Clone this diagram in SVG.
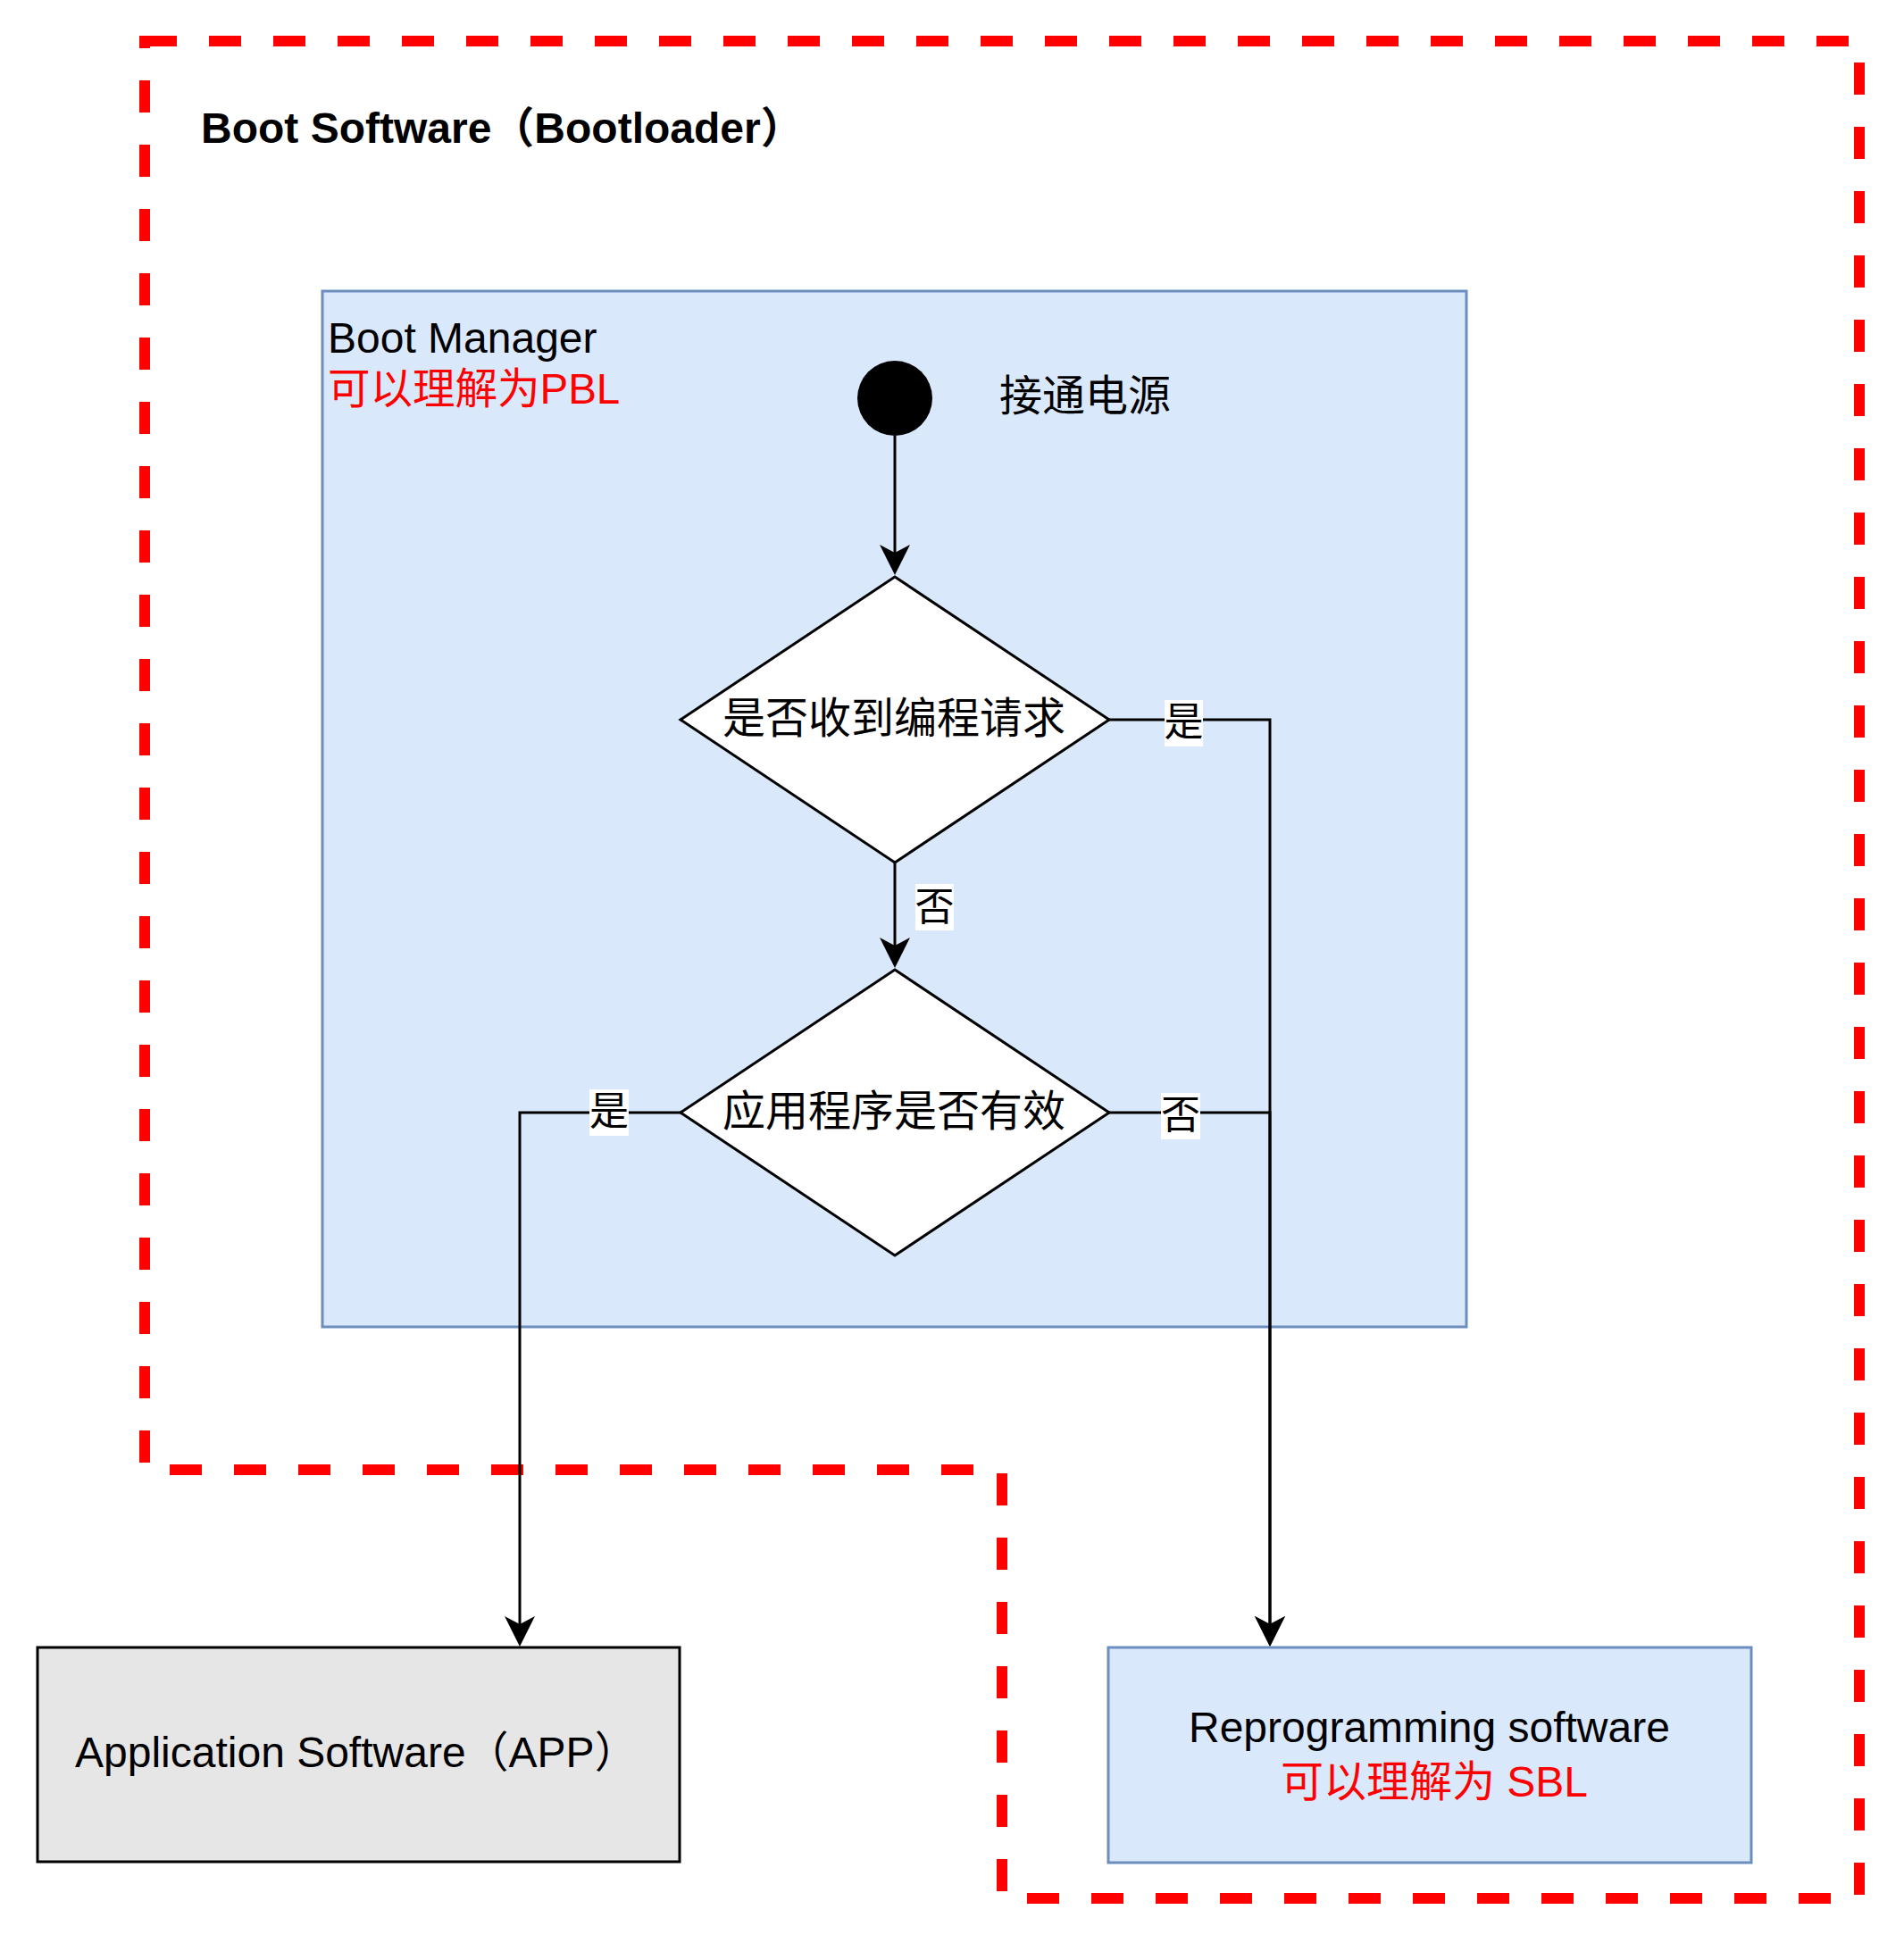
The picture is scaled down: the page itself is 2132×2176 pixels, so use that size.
<svg xmlns="http://www.w3.org/2000/svg" width="2132" height="2176" viewBox="0 0 2132 2176">
<style>
.lat{font-family:"Liberation Sans","Noto Sans CJK SC",Arial,sans-serif}
.cjk{font-family:"Noto Sans CJK SC","Liberation Sans",sans-serif}
.t48{font-size:48px;fill:#000}
.red{fill:#FF0000}
.lbl{font-size:44px;fill:#000;text-anchor:middle}
.conn{fill:none;stroke:#000;stroke-width:3;marker-end:url(#arrow)}
.dia{fill:#fff;stroke:#000;stroke-width:3}
</style>
<defs>
<marker id="arrow" markerUnits="userSpaceOnUse" viewBox="0 0 36 36" markerWidth="36" markerHeight="36" refX="10" refY="18" orient="auto">
<path d="M1,1 L35,18 L1,35 L10,18 Z" fill="#000"/>
</marker>
</defs>
<rect width="2132" height="2176" fill="#fff"/>
<g id="boot-software">
<path d="M162,46 H2082 V2126 H1122 V1646 H162 Z" fill="none" stroke="#FF0000" stroke-width="12" stroke-dasharray="36 36"/>
<text class="lat" x="225" y="160" font-size="48" font-weight="bold" fill="#000">Boot Software（Bootloader）</text>
</g>
<g id="boot-manager">
<rect x="361" y="326" width="1281" height="1160" fill="#dae8fc" stroke="#6c8ebf" stroke-width="3"/>
<text class="lat t48" x="367" y="395" font-size="47.5">Boot Manager</text>
<text class="lat red" x="367" y="452" font-size="47.5">可以理解为PBL</text>
</g>
<g id="connectors">
<path class="conn" d="M1002,488 V619"/>
<path class="conn" d="M1242,806 H1422 V1819"/>
<path class="conn" d="M1002,966 V1059"/>
<path class="conn" d="M762,1246 H582 V1819"/>
<path class="conn" d="M1242,1246 H1422 V1819"/>
<g id="conn-labels">
<rect x="1304" y="784" width="43" height="52" fill="#fff"/>
<text class="cjk lbl" x="1325.5" y="824">是</text>
<rect x="1025" y="990" width="43" height="52" fill="#fff"/>
<text class="cjk lbl" x="1046.5" y="1031">否</text>
<rect x="660" y="1220" width="44" height="52" fill="#fff"/>
<text class="cjk lbl" x="682" y="1260">是</text>
<rect x="1300" y="1224" width="44" height="52" fill="#fff"/>
<text class="cjk lbl" x="1322" y="1264">否</text>
</g>
</g>
<g id="start">
<circle cx="1002" cy="446" r="42" fill="#000"/>
<text class="cjk t48" x="1119" y="460">接通电源</text>
</g>
<g id="decision-request">
<polygon class="dia" points="1002,646 1242,806 1002,966 762,806"/>
<text class="cjk t48" x="1001" y="821" text-anchor="middle">是否收到编程请求</text>
</g>
<g id="decision-valid">
<polygon class="dia" points="1002,1086 1242,1246 1002,1406 762,1246"/>
<text class="cjk t48" x="1001" y="1261" text-anchor="middle">应用程序是否有效</text>
</g>
<g id="app">
<rect x="42" y="1845" width="719" height="240" fill="#e6e6e6" stroke="#000" stroke-width="3"/>
<text class="lat t48" x="84" y="1979">Application Software（APP）</text>
</g>
<g id="reprogramming">
<rect x="1241" y="1845" width="720" height="241" fill="#dae8fc" stroke="#6c8ebf" stroke-width="3"/>
<text class="lat t48" x="1331" y="1951">Reprogramming software</text>
<text class="lat red" x="1434" y="2012" font-size="48">可以理解为 SBL</text>
</g>
</svg>
